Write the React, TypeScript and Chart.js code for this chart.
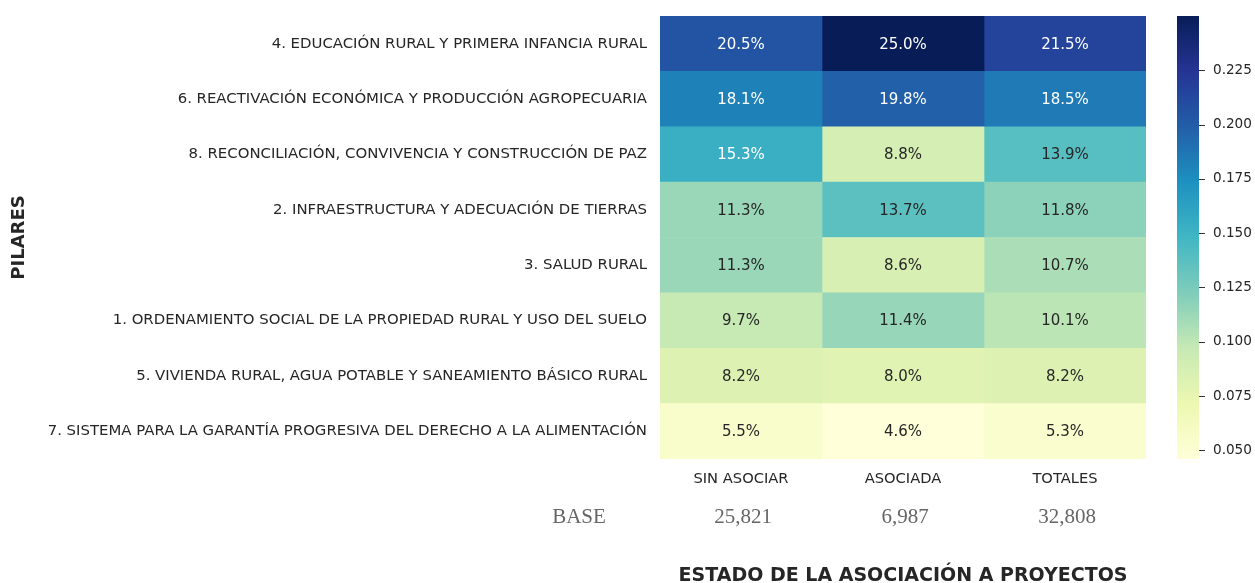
import React, { useEffect, useRef } from "react";
import { Chart, registerables } from "chart.js";

Chart.register(...registerables);

// ---------- data ----------
const rowLabels = [
  "4. EDUCACIÓN RURAL Y PRIMERA INFANCIA RURAL",
  "6. REACTIVACIÓN ECONÓMICA Y PRODUCCIÓN AGROPECUARIA",
  "8. RECONCILIACIÓN, CONVIVENCIA Y CONSTRUCCIÓN DE PAZ",
  "2. INFRAESTRUCTURA Y ADECUACIÓN DE TIERRAS",
  "3. SALUD RURAL",
  "1. ORDENAMIENTO SOCIAL DE LA PROPIEDAD RURAL Y USO DEL SUELO",
  "5. VIVIENDA RURAL, AGUA POTABLE Y SANEAMIENTO BÁSICO RURAL",
  "7. SISTEMA PARA LA GARANTÍA PROGRESIVA DEL DERECHO A LA ALIMENTACIÓN",
];
const columnLabels = ["SIN ASOCIAR", "ASOCIADA", "TOTALES"];
const sinAsociar = [0.205, 0.181, 0.153, 0.113, 0.113, 0.097, 0.082, 0.055];
const asociada = [0.25, 0.198, 0.088, 0.137, 0.086, 0.114, 0.08, 0.046];
const totales = [0.215, 0.185, 0.139, 0.118, 0.107, 0.101, 0.082, 0.053];
const baseLabel = "BASE";
const baseCounts = ["25,821", "6,987", "32,808"];
const colorbarTicks = [0.05, 0.075, 0.1, 0.125, 0.15, 0.175, 0.2, 0.225];
const xTitle = "ESTADO DE LA ASOCIACIÓN A PROYECTOS";
const yTitle = "PILARES";

const columns = [sinAsociar, asociada, totales];
const allValues = columns.flat();
const vmin = Math.min(...allValues);
const vmax = Math.max(...allValues);

// YlGnBu colormap
const YLGNBU: number[][] = [
  [255, 255, 217],
  [237, 248, 177],
  [199, 233, 180],
  [127, 205, 187],
  [65, 182, 196],
  [29, 145, 192],
  [34, 94, 168],
  [37, 52, 148],
  [8, 29, 88],
];

function cmap(t: number): number[] {
  const tt = Math.max(0, Math.min(1, t));
  const p = tt * (YLGNBU.length - 1);
  const i = Math.min(Math.floor(p), YLGNBU.length - 2);
  const f = p - i;
  const a = YLGNBU[i];
  const b = YLGNBU[i + 1];
  return [0, 1, 2].map((k) => a[k] + (b[k] - a[k]) * f);
}
function colorOf(v: number): number[] {
  return cmap((v - vmin) / (vmax - vmin));
}
function rgbStr(c: number[]) {
  return `rgb(${Math.round(c[0])},${Math.round(c[1])},${Math.round(c[2])})`;
}
function luminance(c: number[]) {
  const lin = c.map((x) => {
    const s = x / 255;
    return s <= 0.03928 ? s / 12.92 : Math.pow((s + 0.055) / 1.055, 2.4);
  });
  return 0.2126 * lin[0] + 0.7152 * lin[1] + 0.0722 * lin[2];
}

const TEXT = "#262626";
const FONT = "'DejaVu Sans', sans-serif";

function zeroPadding(s: any) {
  s.paddingTop = 0;
  s.paddingBottom = 0;
  s.paddingLeft = 0;
  s.paddingRight = 0;
}

const extrasPlugin = {
  id: "heatExtras",
  afterDatasetsDraw(chart: any) {
    const ctx = chart.ctx;
    ctx.save();
    ctx.font = `15px ${FONT}`;
    ctx.textAlign = "center";
    ctx.textBaseline = "middle";
    chart.data.datasets.forEach((_ds: any, di: number) => {
      const meta = chart.getDatasetMeta(di);
      meta.data.forEach((el: any, i: number) => {
        const v = columns[di][i];
        const c = colorOf(v);
        ctx.fillStyle = luminance(c) < 0.408 ? "#ffffff" : TEXT;
        const p = el.getCenterPoint();
        ctx.fillText((v * 100).toFixed(1) + "%", p.x, p.y + 1);
      });
    });
    ctx.restore();
  },
  afterDraw(chart: any) {
    const ctx = chart.ctx;
    const cb = chart.scales.cb;
    const xs = chart.scales.x;
    ctx.save();
    // colorbar
    const barLeft = cb.left + 31;
    const barW = 22;
    const yTop = cb.getPixelForValue(vmax);
    const yBot = cb.getPixelForValue(vmin);
    const grad = ctx.createLinearGradient(0, yBot, 0, yTop);
    YLGNBU.forEach((c, i) => grad.addColorStop(i / (YLGNBU.length - 1), rgbStr(c)));
    ctx.fillStyle = grad;
    ctx.fillRect(barLeft, yTop, barW, yBot - yTop);
    ctx.strokeStyle = "#333333";
    ctx.lineWidth = 1;
    colorbarTicks.forEach((t) => {
      const y = Math.round(cb.getPixelForValue(t)) + 0.5;
      ctx.beginPath();
      ctx.moveTo(barLeft + barW, y);
      ctx.lineTo(barLeft + barW + 6, y);
      ctx.stroke();
    });
    // base row
    ctx.font = `21px 'Liberation Serif', serif`;
    ctx.fillStyle = "#666666";
    ctx.textAlign = "center";
    ctx.textBaseline = "middle";
    const by = 517;
    ctx.fillText(baseLabel, xs.getPixelForValue(-0.5), by);
    baseCounts.forEach((s, i) => {
      ctx.fillText(s, xs.getPixelForValue(i + 0.5) + 2, by);
    });
    ctx.restore();
  },
};

export default function App() {
  const ref = useRef<HTMLCanvasElement | null>(null);
  useEffect(() => {
    if (!ref.current) return;
    const datasets = columns.map((col, ci) => ({
      label: columnLabels[ci],
      data: col.map(() => [ci, ci + 1]),
      backgroundColor: col.map((v) => rgbStr(colorOf(v))),
      borderWidth: 0,
      barPercentage: 1,
      categoryPercentage: 1,
      grouped: false,
      xAxisID: "x",
      yAxisID: "y",
    }));
    const chart = new Chart(ref.current, {
      type: "bar",
      data: { labels: rowLabels, datasets: datasets as any },
      options: {
        animation: false,
        responsive: false,
        devicePixelRatio: 1,
        indexAxis: "y",
        layout: { padding: { top: 16, left: 0, right: 0, bottom: 0 } },
        plugins: { legend: { display: false }, tooltip: { enabled: false } },
        scales: {
          y: {
            type: "category",
            position: "left",
            grid: { display: false, drawTicks: false },
            border: { display: false },
            ticks: { color: TEXT, font: { size: 14.9, family: FONT }, padding: 13 },
            title: {
              display: true,
              text: yTitle,
              color: TEXT,
              font: { size: 18, weight: "bold", family: FONT, lineHeight: 1 },
              padding: { top: 10, bottom: 0 },
            },
            afterFit: (s: any) => {
              s.width = 660;
              zeroPadding(s);
            },
          },
          x: {
            type: "linear",
            position: "bottom",
            min: 0,
            max: 3,
            grid: { display: false, drawTicks: false },
            border: { display: false },
            afterBuildTicks: (s: any) => {
              s.ticks = columnLabels.map((_, i) => ({ value: i + 0.5 }));
            },
            ticks: {
              color: TEXT,
              font: { size: 14.7, family: FONT },
              padding: 11,
              autoSkip: false,
              maxRotation: 0,
              callback: (v: any) => columnLabels[Math.round(Number(v) - 0.5)] ?? "",
            },
            title: {
              display: true,
              text: xTitle,
              color: TEXT,
              font: { size: 19, weight: "bold", family: FONT, lineHeight: 1 },
              padding: { top: 0, bottom: -3 },
            },
            afterFit: (s: any) => {
              s.height = 124;
              zeroPadding(s);
            },
          },
          cb: {
            type: "linear",
            axis: "y",
            position: "right",
            offset: false,
            min: vmin,
            max: vmax,
            grid: { display: false, drawTicks: false, offset: false },
            border: { display: false },
            afterBuildTicks: (s: any) => {
              s.ticks = colorbarTicks.map((t) => ({ value: t }));
            },
            ticks: {
              color: TEXT,
              font: { size: 13.6, family: FONT },
              padding: 67,
              autoSkip: false,
              callback: (v: any) => Number(v).toFixed(3),
            },
            afterFit: (s: any) => {
              s.width = 109;
              zeroPadding(s);
            },
          },
        },
      } as any,
      plugins: [extrasPlugin],
    });
    return () => chart.destroy();
  }, []);
  return (
    <div style={{ position: "absolute", left: 0, top: 0, width: 1255, height: 583, background: "#fff" }}>
      <canvas ref={ref} width={1255} height={583} style={{ display: "block" }} />
    </div>
  );
}
